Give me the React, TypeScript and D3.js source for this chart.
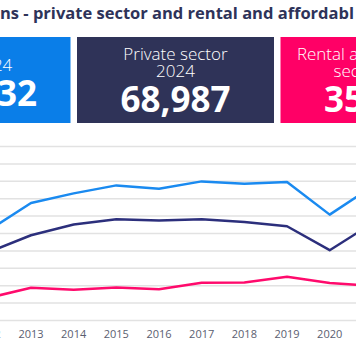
import React from "react";
import * as d3 from "d3";

const years = [2012, 2013, 2014, 2015, 2016, 2017, 2018, 2019, 2020, 2021];
const totalSeries = [103500, 135000, 146100, 155300, 151500, 159900, 157200, 159100, 121700, 154200];
const privateSeries = [78500, 98000, 110300, 116300, 114800, 116300, 113200, 108300, 80800, 111700];
const rentalSeries = [26000, 37600, 35300, 38000, 35800, 43300, 43800, 50200, 43000, 39900];
const yTicks = [0, 20000, 40000, 60000, 80000, 100000, 120000, 140000, 160000, 180000, 200000];
const xTickYears = [2012, 2013, 2014, 2015, 2016, 2017, 2018, 2019, 2020, 2021];

const cardLabels = [["Total 2024"], ["Private sector", "2024"], ["Rental and affordable", "sector 2024"]];
const cardValues = ["104,332", "68,987", "35,345"];
const cardColors = ["#0a7ee8", "#2f3358", "#ff0066"];
const lineColors = ["#1a8af0", "#2c2f7c", "#ff0a6c"];

const titleText = "ns - private sector and rental and affordabl";

export default function App() {
  const W = 356;
  const H = 359;
  const x = d3.scaleLinear().domain([2013, 2020]).range([31, 329.7]);
  const y = d3.scaleLinear().domain([0, 200000]).range([320.5, 146.5]);
  const line = d3
    .line<number>()
    .x((_, i) => x(years[i]))
    .y((d) => y(d));
  const series = [totalSeries, privateSeries, rentalSeries];

  const cardW = 197;
  const cardGap = 6.5;
  const cardX0 = 77 - cardW - cardGap;
  const font = "'Open Sans', sans-serif";

  return (
    <svg
      width={W}
      height={H}
      style={{ position: "absolute", left: 0, top: 0, background: "#fff" }}
    >
      <text
        x={0}
        y={19}
        fontFamily={font}
        fontWeight={700}
        fontSize={16}
        fill="#2e3359"
        textLength={354}
        lengthAdjust="spacingAndGlyphs"
      >
        {titleText}
      </text>
      {cardLabels.map((lbls, i) => {
        const bx = cardX0 + i * (cardW + cardGap);
        const cx = bx + cardW / 2;
        const single = lbls.length === 1;
        return (
          <g key={i}>
            <rect x={bx} y={37} width={cardW} height={86} fill={cardColors[i]} />
            {lbls.map((t, j) => (
              <text
                key={j}
                x={cx}
                y={single ? 71 : 60 + j * 17}
                textAnchor="middle"
                fontFamily={font}
                fontWeight={300}
                fontSize={17}
                fill="#fff"
              >
                {t}
              </text>
            ))}
            <text
              x={cx}
              y={single ? 106 : 111.5}
              textAnchor="middle"
              fontFamily={font}
              fontWeight={700}
              fontSize={35}
              fill="#fff"
            >
              {cardValues[i]}
            </text>
          </g>
        );
      })}
      {yTicks.map((t) => (
        <line
          key={t}
          x1={0}
          x2={W}
          y1={y(t)}
          y2={y(t)}
          stroke="#e2e2e2"
          strokeWidth={1.5}
        />
      ))}
      {series.map((s, i) => (
        <path
          key={i}
          d={line(s) || ""}
          fill="none"
          stroke={lineColors[i]}
          strokeWidth={2.5}
          strokeLinejoin="round"
        />
      ))}
      {xTickYears.map((yr) => (
        <text
          key={yr}
          x={x(yr)}
          y={338}
          textAnchor="middle"
          fontFamily={font}
          fontSize={11}
          fill="#5a5e70"
        >
          {yr}
        </text>
      ))}
    </svg>
  );
}
